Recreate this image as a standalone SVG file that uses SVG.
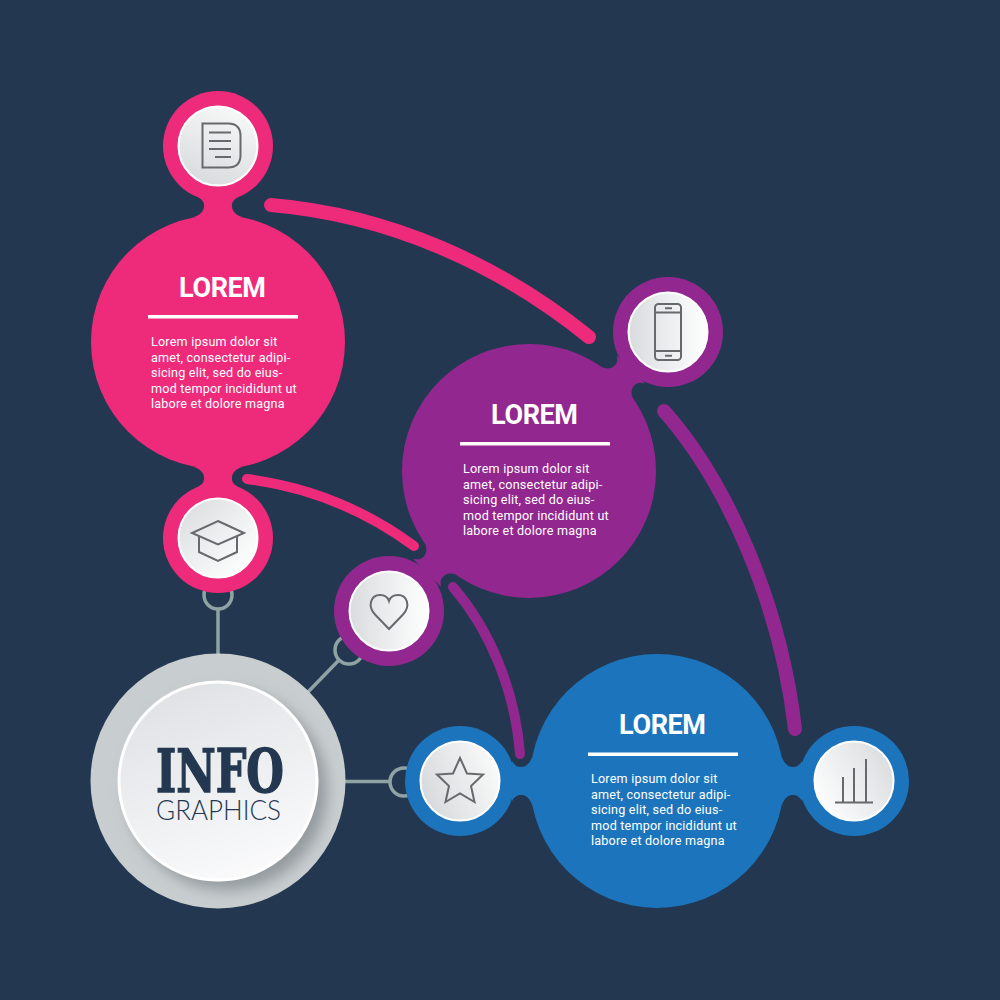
<svg xmlns="http://www.w3.org/2000/svg" xmlns:xlink="http://www.w3.org/1999/xlink" width="1000" height="1000" viewBox="0 0 1000 1000">
<style>
.pink{fill:#ee2a7b}.purple{fill:#92278f}.blue{fill:#1c75bc}
.disc{stroke:#fff;stroke-width:2}
.icon{fill:none;stroke:#666a6d;stroke-width:2;stroke-linejoin:miter}
.wire{fill:none;stroke:#8fa3a5;stroke-width:3.5}
.arc{fill:none;stroke-linecap:round}
.title{font-family:"Roboto","Liberation Sans",sans-serif;font-weight:700;font-size:27px;fill:#fff;text-anchor:middle}
.body{font-family:"Roboto","Liberation Sans",sans-serif;font-size:12.6px;fill:#fff;letter-spacing:.2px}
.rule{fill:#fff}
</style>
<defs>
<path id="neck" d="M-20,-10C-15,-7 -13.5,-4 -14,0C-14.5,5 -19,8.500 -24,10L24,10C19,8.500 14.500,5 14,0C13.500,-4 15,-7 20,-10Z"/>
<linearGradient id="gDoc" x1="0.700" y1="0" x2="0.300" y2="1"><stop offset="0" stop-color="#f7f8f8"/><stop offset="1" stop-color="#d8dbdd"/></linearGradient>
<linearGradient id="gCap" x1="0.100" y1="0.100" x2="0.900" y2="0.900"><stop offset="0" stop-color="#dcdfe1"/><stop offset="1" stop-color="#fff"/></linearGradient>
<linearGradient id="gLR" x1="0" y1="0.500" x2="1" y2="0.500"><stop offset="0" stop-color="#d9dcde"/><stop offset="1" stop-color="#fff"/></linearGradient>
<linearGradient id="gStar" x1="0" y1="0.700" x2="1" y2="0.300"><stop offset="0" stop-color="#d6d9db"/><stop offset="1" stop-color="#fafafa"/></linearGradient>
<linearGradient id="gChart" x1="1" y1="0.200" x2="0" y2="0.800"><stop offset="0" stop-color="#d9dcde"/><stop offset="1" stop-color="#fff"/></linearGradient>
<linearGradient id="gMain" x1="0.300" y1="0" x2="0.700" y2="1"><stop offset="0" stop-color="#dfe2e5"/><stop offset="1" stop-color="#fbfbfc"/></linearGradient>
<filter id="soft" x="-20%" y="-20%" width="150%" height="150%"><feDropShadow dx="9" dy="9" stdDeviation="7" flood-color="#7f868a" flood-opacity="0.700"/></filter>
</defs>
<rect width="1000" height="1000" fill="#233850"/>

<g id="connectors">
<circle class="wire" cx="218" cy="595" r="14"/><path class="wire" d="M218,609V656"/>
<circle class="wire" cx="349" cy="650" r="14"/><path class="wire" d="M339,660L308,692"/>
<circle class="wire" cx="404" cy="782" r="14"/><path class="wire" d="M344,781.500H390"/>
<path class="arc" stroke="#ee2a7b" stroke-width="14" d="M271,205C390,215 500,265 589,337"/>
<path class="arc" stroke="#ee2a7b" stroke-width="10" d="M247,479C310,487 365,510 414,546"/>
<path class="arc" stroke="#92278f" stroke-width="14" d="M664,411C725,480 780,600 795,729"/>
<path class="arc" stroke="#92278f" stroke-width="10" d="M453,587C490,630 515,690 520,754"/>
</g>

<g id="node-pink">
<circle class="pink" cx="218" cy="342" r="127"/>
<use xlink:href="#neck" href="#neck" class="pink" transform="translate(218,207)"/>
<use xlink:href="#neck" href="#neck" class="pink" transform="translate(218,477) rotate(180)"/>
<text class="title" x="222.500" y="296.500" textLength="87">LOREM</text>
<rect class="rule" x="148" y="315" width="150" height="3.500"/>
<text class="body" x="151" y="346">Lorem ipsum dolor sit</text>
<text class="body" x="151" y="361.500">amet, consectetur adipi-</text>
<text class="body" x="151" y="377">sicing elit, sed do eius-</text>
<text class="body" x="151" y="392.500">mod tempor incididunt ut</text>
<text class="body" x="151" y="408">labore et dolore magna</text>
</g>

<g id="node-doc">
<circle class="pink" cx="218" cy="146" r="55"/>
<circle class="disc" cx="218" cy="146" r="39.500" fill="url(#gDoc)"/>
<path class="icon" d="M202.500,123.500H228Q240.500,123.500 240.500,136V155Q240.500,167.500 228,167.500H202.500Z"/>
<path class="icon" d="M209,132.500H231M209,141H231M209,149H231M215,157H231"/>
</g>

<g id="node-cap">
<circle class="pink" cx="218" cy="538" r="55"/>
<circle class="disc" cx="218" cy="538" r="39.500" fill="url(#gCap)"/>
<path class="icon" d="M218,521L244,533L218,544.500L192,533Z"/>
<path class="icon" d="M199,536V552L218,561L237,552V536"/>
</g>

<g id="node-purple">
<circle class="purple" cx="529" cy="471" r="127"/>
<use xlink:href="#neck" href="#neck" class="purple" transform="translate(623.800,376.200) rotate(45)"/>
<use xlink:href="#neck" href="#neck" class="purple" transform="translate(434.200,565.800) rotate(225)"/>
<text class="title" x="534.500" y="424" textLength="87">LOREM</text>
<rect class="rule" x="460" y="442" width="150" height="3.500"/>
<text class="body" x="463" y="473">Lorem ipsum dolor sit</text>
<text class="body" x="463" y="488.500">amet, consectetur adipi-</text>
<text class="body" x="463" y="504">sicing elit, sed do eius-</text>
<text class="body" x="463" y="519.500">mod tempor incididunt ut</text>
<text class="body" x="463" y="535">labore et dolore magna</text>
</g>

<g id="node-phone">
<circle class="purple" cx="668" cy="332" r="55"/>
<circle class="disc" cx="668" cy="332" r="39.500" fill="url(#gLR)"/>
<rect class="icon" x="655" y="304" width="26" height="56" rx="3.500"/>
<path class="icon" d="M655,312.500H681M655,351H681M665,308.300H672M665,355.700H672"/>
</g>

<g id="node-heart">
<circle class="purple" cx="389" cy="611" r="55"/>
<circle class="disc" cx="389" cy="611" r="39.500" fill="url(#gLR)"/>
<path class="icon" d="M389,629L375,614.500C367,606 371,595 380,595C385,595 388,598 389,601C390,598 393,595 398,595C407,595 411,606 403,614.500Z"/>
</g>

<g id="node-blue">
<circle class="blue" cx="657" cy="781" r="127"/>
<use xlink:href="#neck" href="#neck" class="blue" transform="translate(522,781) rotate(-90)"/>
<use xlink:href="#neck" href="#neck" class="blue" transform="translate(792,781) rotate(90)"/>
<text class="title" x="662.500" y="734" textLength="87">LOREM</text>
<rect class="rule" x="588" y="752.500" width="150" height="3.500"/>
<text class="body" x="591" y="783">Lorem ipsum dolor sit</text>
<text class="body" x="591" y="798.500">amet, consectetur adipi-</text>
<text class="body" x="591" y="814">sicing elit, sed do eius-</text>
<text class="body" x="591" y="829.500">mod tempor incididunt ut</text>
<text class="body" x="591" y="845">labore et dolore magna</text>
</g>

<g id="node-star">
<circle class="blue" cx="460" cy="781" r="55"/>
<circle class="disc" cx="460" cy="781" r="39.500" fill="url(#gStar)"/>
<path class="icon" d="M460,758L467,773.500L483,774.500L471,786L474.500,802L460,793.500L445.500,802L449,786L437,774.500L453,773.500Z"/>
</g>

<g id="node-chart">
<circle class="blue" cx="854" cy="781" r="55"/>
<circle class="disc" cx="854" cy="781" r="39.500" fill="url(#gChart)"/>
<path class="icon" d="M835,802.500H873M843,802.500V777M854,802.500V768M866,802.500V759"/>
</g>

<g id="node-main">
<circle cx="218" cy="781" r="127.500" fill="#c8cdd0"/>
<circle cx="218" cy="781" r="99" fill="url(#gMain)" stroke="#fff" stroke-width="3" filter="url(#soft)"/>
<text x="156" y="792" textLength="128" lengthAdjust="spacingAndGlyphs" font-family="'DejaVu Serif','Liberation Serif',serif" font-weight="700" font-size="60" fill="#233850" stroke="#233850" stroke-width="1.500">INFO</text>
<text x="156" y="820" textLength="125" lengthAdjust="spacingAndGlyphs" font-family="Lato,'Liberation Sans',sans-serif" font-weight="300" font-size="27.500" fill="#233850">GRAPHICS</text>
</g>
</svg>
